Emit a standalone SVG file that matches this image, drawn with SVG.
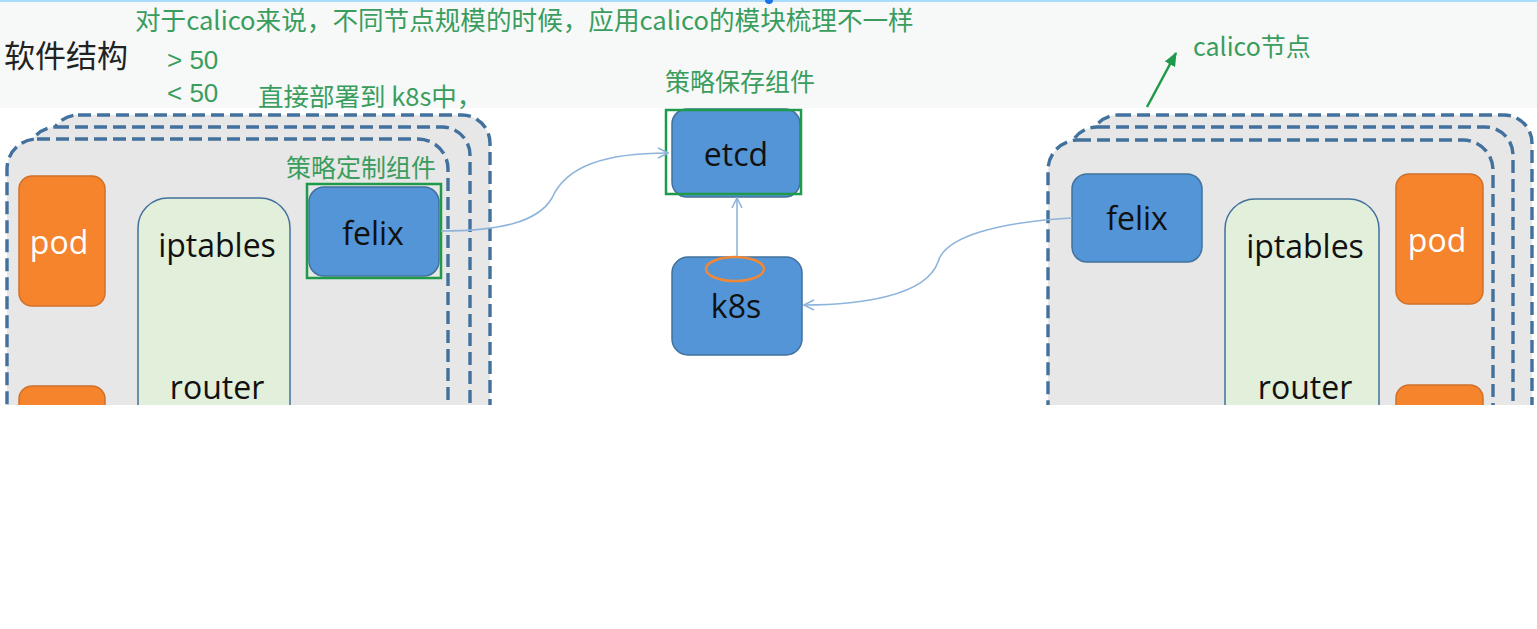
<svg xmlns="http://www.w3.org/2000/svg" width="1537" height="629" viewBox="0 0 1537 629">
<style>
.stack{fill:#e7e7e7;stroke:#41719c;stroke-width:3.4;stroke-dasharray:13 6}
.pod{fill:#f5842c;stroke:#d0702a;stroke-width:1.5}
.blue{fill:#5395d6;stroke:#41719c;stroke-width:1.5}
.ipt{fill:#e2efda;stroke:#41719c;stroke-width:1.5}
.sel{fill:none;stroke:#1f9a4b;stroke-width:2.5}
.t{font-family:"Open Sans","Noto Sans",sans-serif;font-size:32px;text-anchor:middle;fill:#111}
.tw{font-family:"Open Sans","Noto Sans",sans-serif;font-size:32px;text-anchor:middle;fill:#fff}
.g{font-family:"Noto Sans CJK SC","Noto Sans",sans-serif;font-size:25px;fill:#3a9d5d}
.n{font-family:"Liberation Sans",Arial,sans-serif;font-size:26px;fill:#3a9d5d}
.conn{fill:none;stroke:#8fb4dc;stroke-width:1.6}
</style>
<defs>
<marker id="open" viewBox="0 0 12 12" refX="11" refY="6" markerWidth="12" markerHeight="12" markerUnits="userSpaceOnUse" orient="auto">
<path d="M1,1 L11,6 L1,11" fill="none" stroke="#8fb4dc" stroke-width="1.6"/>
</marker>
<marker id="green" viewBox="0 0 12 12" refX="11" refY="6" markerWidth="14" markerHeight="14" markerUnits="userSpaceOnUse" orient="auto">
<path d="M0,1 L12,6 L0,11 Z" fill="#1f9a4b"/>
</marker>
<clipPath id="clip"><rect x="0" y="0" width="1537" height="405"/></clipPath>
</defs>
<rect width="1537" height="629" fill="#ffffff"/>
<rect x="0" y="0" width="1537" height="108" fill="#f7f9f9"/>
<rect x="0" y="0" width="1537" height="2" fill="#a9dcff"/>
<circle cx="769" cy="0" r="4" fill="#1a73e8"/>

<g id="labels">
<text x="135" y="30" class="g" style="font-size:25.6px">对于calico来说，不同节点规模的时候，应用calico的模块梳理不一样</text>
<text x="4" y="67" style="font-family:'Noto Sans CJK SC','Noto Sans',sans-serif;font-size:31px" fill="#222">软件结构</text>
<text x="167" y="69" class="n">&gt; 50</text>
<text x="167" y="102" class="n">&lt; 50</text>
<text x="258" y="106" class="g" style="font-size:25.5px">直接部署到 k8s中，</text>
<text x="665" y="91" class="g">策略保存组件</text>
<text x="1193" y="56" class="g">calico节点</text>
</g>

<g clip-path="url(#clip)">
<g id="left-node">
<rect x="50" y="115" width="440" height="600" rx="28" class="stack"/>
<rect x="28" y="127" width="442" height="600" rx="28" class="stack"/>
<rect x="7" y="139" width="441" height="600" rx="30" class="stack"/>
<text x="286" y="177" class="g">策略定制组件</text>
</g>
<g id="left-pod1"><rect x="19" y="176" width="86" height="130" rx="13" class="pod"/><text x="59" y="254" class="tw">pod</text></g>
<g id="left-pod2"><rect x="19" y="386" width="86" height="130" rx="13" class="pod"/></g>
<g id="left-iptables"><rect x="138" y="198" width="152" height="400" rx="30" class="ipt"/><text x="217" y="257" class="t">iptables</text><text x="217" y="399" class="t">router</text></g>
<g id="left-felix"><rect x="309" y="187" width="130" height="89" rx="15" class="blue"/><rect x="307" y="184" width="134" height="94" class="sel"/><text x="373" y="245" class="t">felix</text></g>

<g id="right-node">
<rect x="1090" y="115" width="442" height="600" rx="28" class="stack"/>
<rect x="1069" y="127" width="444" height="600" rx="28" class="stack"/>
<rect x="1048" y="140" width="445" height="600" rx="30" class="stack"/>
</g>
<g id="right-felix"><rect x="1072" y="174" width="130" height="88" rx="15" class="blue"/><text x="1137" y="230" class="t">felix</text></g>
<g id="right-iptables"><rect x="1225" y="199" width="154" height="400" rx="30" class="ipt"/><text x="1305" y="258" class="t">iptables</text><text x="1305" y="399" class="t">router</text></g>
<g id="right-pod1"><rect x="1396" y="174" width="87" height="130" rx="13" class="pod"/><text x="1437" y="252" class="tw">pod</text></g>
<g id="right-pod2"><rect x="1396" y="385" width="87" height="130" rx="13" class="pod"/></g>

<g id="etcd"><rect x="672" y="109" width="128" height="88" rx="15" class="blue"/><rect x="666" y="110" width="135" height="84" class="sel"/><text x="736" y="166" class="t">etcd</text></g>
<g id="k8s"><rect x="672" y="257" width="130" height="98" rx="16" class="blue"/><ellipse cx="735" cy="269" rx="29" ry="12" fill="none" stroke="#f0883a" stroke-width="2.5"/><text x="736" y="318" class="t">k8s</text></g>

<g id="connectors">
<path class="conn" d="M441,231 C500,231 538,222 552,198 C566,166 605,153 668,153" marker-end="url(#open)"/>
<path class="conn" d="M737,256 L737,198" marker-end="url(#open)"/>
<path class="conn" d="M1072,218 C1000,222 945,236 938,262 C926,296 860,305 804,305" marker-end="url(#open)"/>
<path d="M1147,107 L1176,53" fill="none" stroke="#1f9a4b" stroke-width="2.5" marker-end="url(#green)"/>
</g>
</g>
</svg>
